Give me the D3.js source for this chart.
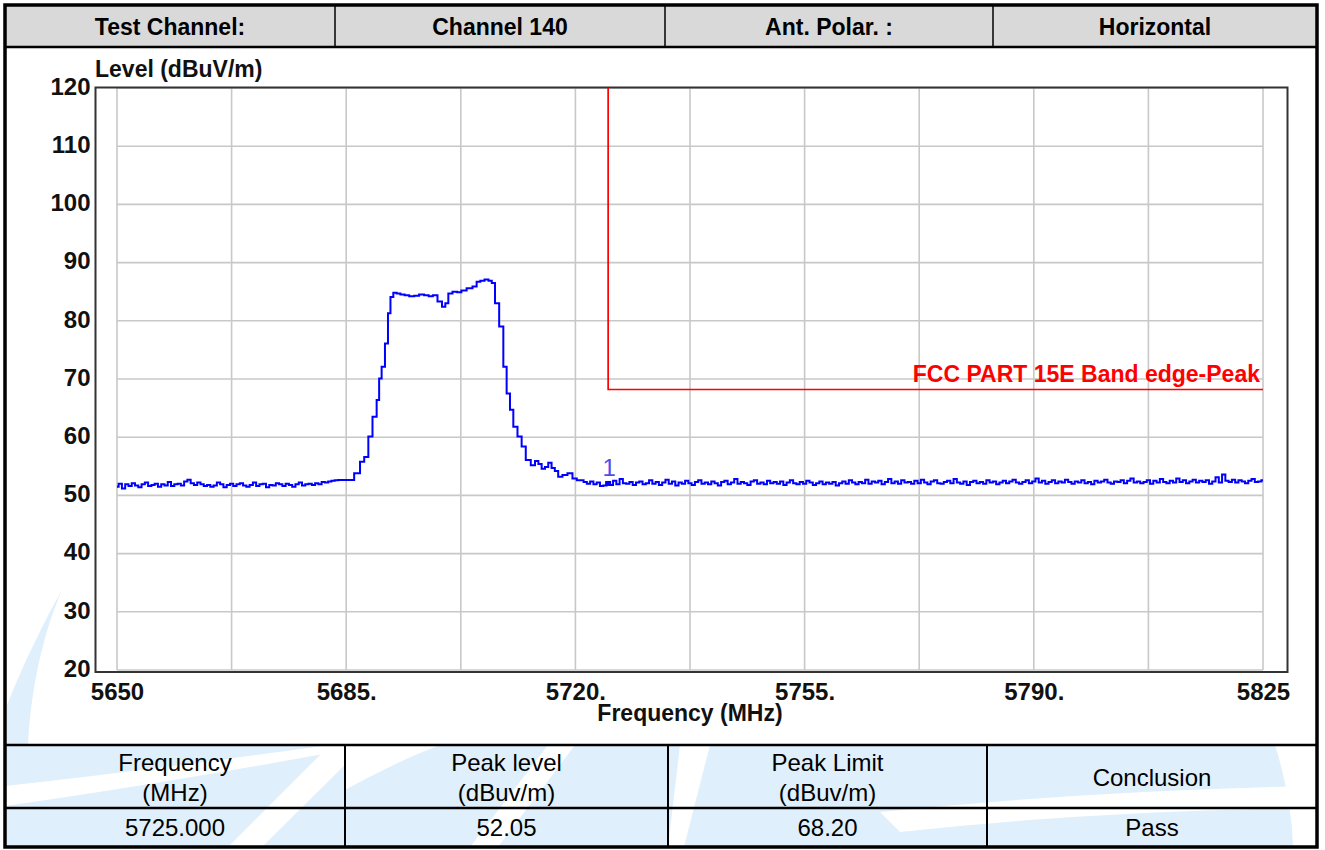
<!DOCTYPE html>
<html><head><meta charset="utf-8">
<script src="https://cdn.jsdelivr.net/npm/d3@7"></script>
<style>
body{margin:0;background:#fff}
svg{display:block}
text{font-family:'Liberation Sans',Arial,Helvetica,sans-serif}
</style>
</head><body>
<svg id="chart" width="1325" height="850"></svg>
<script>
// ---------------- DATA ----------------
const headerCells = ["Test Channel:", "Channel 140", "Ant. Polar. :", "Horizontal"];
const tableHeads = [["Frequency", "(MHz)"], ["Peak level", "(dBuv/m)"], ["Peak Limit", "(dBuv/m)"], ["Conclusion"]];
const tableValues = ["5725.000", "52.05", "68.20", "Pass"];

const yTicks = [20, 30, 40, 50, 60, 70, 80, 90, 100, 110, 120];
const xTicks = [5650, 5685, 5720, 5755, 5790, 5825];
const xTickLabels = ["5650", "5685.", "5720.", "5755.", "5790.", "5825"];
const xGrid = [5650, 5667.5, 5685, 5702.5, 5720, 5737.5, 5755, 5772.5, 5790, 5807.5, 5825];

const limitLabel = "FCC PART 15E Band edge-Peak";
const limitStartMHz = 5725;
const limitEndMHz = 5825;
const limitDb = 68.2;
const limitTopDb = 120;

const markerLabel = "1";
const markerMHz = 5725;
const markerDb = 52.05;

const yTitle = "Level (dBuV/m)";
const xTitle = "Frequency (MHz)";

// sweep points (0.5 MHz spacing) of the noise floor
const sweepStepMHz = 0.5;
const lowerFloorStartMHz = 5650;
const lowerFloor = [
  51.5, 52.0, 51.2, 51.9, 51.6, 52.1, 51.7, 51.4, 51.9, 52.2,
  51.6, 51.8, 52.0, 51.5, 51.9, 51.7, 52.3, 51.6, 51.9, 52.0,
  51.7, 52.4, 52.7, 52.1, 51.8, 52.2, 51.9, 51.6, 51.8, 51.5,
  51.7, 52.2, 51.9, 51.4, 51.8, 52.0, 51.6, 51.9, 52.1, 51.7,
  51.5, 51.8, 52.2, 51.6, 51.9, 52.0, 51.4, 51.8, 51.7, 52.1,
  51.9, 51.6, 52.0, 51.8, 51.5, 51.9, 52.2, 51.7, 51.9, 52.0,
  51.8, 52.1, 51.9, 52.3, 52.2, 52.4, 52.5, 52.6
];
// emission (MHz, dBuV/m)
const emission = [
  [5684.05, 52.65], [5685.58, 52.65], [5686.85, 53.8], [5687.37, 55.8], [5688.13, 56.6],
  [5688.63, 60.1], [5689.40, 63.5], [5689.90, 66.4], [5690.16, 70.1], [5690.66, 72.1],
  [5691.18, 76.1], [5691.58, 81.3], [5691.94, 84.1], [5692.45, 84.8], [5692.95, 84.7],
  [5693.6, 84.5], [5694.24, 84.4], [5695.0, 84.2], [5695.76, 84.3], [5696.5, 84.5],
  [5697.29, 84.4], [5697.9, 84.2], [5698.56, 84.4], [5699.32, 83.3], [5699.93, 82.4],
  [5700.34, 83.0], [5700.85, 84.7], [5701.61, 85.0], [5702.3, 84.9], [5702.88, 85.2],
  [5703.9, 85.6], [5704.67, 85.9], [5705.17, 86.7], [5705.8, 86.9], [5706.45, 87.1],
  [5707.0, 86.9], [5707.46, 86.5], [5707.98, 83.0], [5708.74, 79.0], [5709.25, 72.1],
  [5709.75, 67.5], [5710.27, 64.7], [5710.77, 61.8], [5711.54, 60.1], [5712.04, 58.4],
  [5712.8, 56.1], [5713.57, 55.2], [5714.1, 55.9], [5714.59, 55.4], [5715.1, 54.6],
  [5715.61, 54.9], [5716.1, 55.6], [5716.62, 54.7], [5717.1, 54.2], [5717.64, 53.2],
  [5718.4, 53.5], [5719.17, 53.8], [5719.93, 52.9], [5720.5, 52.6]
];
const upperFloorStartMHz = 5721;
const upperFloor = [
  52.6, 52.3, 52.0, 52.4, 51.9, 52.2, 51.6, 51.7, 52.05, 51.8,
  52.5, 51.9, 52.8, 52.1, 52.0, 52.3, 51.8, 52.2, 52.4, 51.9,
  52.1, 52.6, 52.0, 52.3, 51.8, 52.2, 52.7, 52.0, 52.4, 51.7,
  52.2, 52.0, 52.5, 52.1, 51.8, 52.3, 52.6, 52.0, 52.2, 51.9,
  52.4, 52.1, 51.7, 52.3, 52.5, 51.9, 52.2, 52.8, 52.0, 52.3,
  52.1, 51.8, 52.4, 52.6, 52.0, 52.2, 51.9, 52.5, 52.1, 52.3,
  52.0, 52.4, 51.8, 52.2, 52.6, 52.1, 51.9, 52.3, 52.0, 52.5,
  52.2, 51.8, 52.1, 52.4, 51.9, 52.2, 52.0, 52.3, 51.7, 52.1,
  52.4, 52.0, 52.6, 52.2, 51.9, 52.3, 52.1, 52.7, 52.0, 52.4,
  52.2, 52.5, 51.9, 52.3, 52.8, 52.1, 52.4, 52.0, 52.6, 52.2,
  52.3, 52.0, 52.5, 52.1, 52.7, 52.2, 51.9, 52.4, 52.6, 52.1,
  52.0, 52.3, 52.5, 52.1, 52.8, 52.2, 52.0, 52.4, 51.8, 52.3,
  52.5, 52.1, 52.3, 52.0, 52.6, 52.2, 52.4, 51.9, 52.2, 52.5,
  52.1, 52.4, 52.7, 52.2, 52.0, 52.3, 52.6, 52.1, 52.4, 52.9,
  52.2, 52.5, 52.0, 52.3, 52.6, 52.1, 52.4, 52.2, 52.7, 52.3,
  52.0, 52.4, 52.2, 52.6, 52.1, 52.3, 51.9, 52.5, 52.2, 52.4,
  52.7, 52.2, 52.0, 52.4, 52.3, 52.6, 52.1, 52.5, 52.9, 52.2,
  52.4, 52.1, 52.3, 52.6, 52.0, 52.5, 52.2, 52.8, 52.3, 52.1,
  52.5, 52.2, 52.9, 52.3, 52.6, 52.1, 52.4, 52.7, 52.2, 52.5,
  52.3, 52.6, 52.0, 52.4, 53.1, 52.2, 53.6, 52.5, 52.3, 52.7,
  52.2, 52.6, 52.4, 52.1, 52.5, 52.8, 52.3, 52.4, 52.6
];

// ---------------- LAYOUT ----------------
const outer = {x0: 5, y0: 5, x1: 1317, y1: 847};
const headerBottom = 47;
const headerCols = [5, 335, 665, 993, 1317];
const tableTop = 745, tableMid = 808;
const tableCols = [5, 345, 668, 987, 1317];
const frame = {x0: 95.5, y0: 87.5, x1: 1287.5, y1: 672};

const svg = d3.select("#chart");
const font = "'Liberation Sans',Arial,sans-serif";

// ---------------- WATERMARK ----------------
const wm = svg.append("g");
const wmBlue = "#dfeffb";
wm.append("path").attr("fill", wmBlue)
  .attr("d", "M62,590 C40,640 30,700 28,745 L7,745 L7,705 C25,660 45,620 62,590 Z");
wm.append("rect").attr("x", outer.x0).attr("y", tableTop).attr("width", outer.x1 - outer.x0).attr("height", outer.y1 - tableTop).attr("fill", wmBlue);
const whites = [
  "M5,786 Q150,770 330,745 L372,745 Q175,782 5,806 Z",
  "M330,745 L365,745 L262,847 L228,847 Z",
  "M548,745 L575,745 L498,847 L470,847 Z",
  "M345,745 L440,745 Q400,760 345,790 Z",
  "M680,745 L710,745 L684,847 L668,847 Z",
  "M880,812 Q1100,790 1318,786 L1318,808 Q1100,810 900,832 Z",
  "M1275,745 L1318,745 L1318,847 L1293,847 Q1292,800 1275,745 Z"
];
wm.selectAll("path.w").data(whites).join("path").attr("class", "w").attr("fill", "#fff").attr("d", d => d);

// ---------------- HEADER ----------------
svg.append("rect").attr("x", outer.x0).attr("y", outer.y0).attr("width", outer.x1 - outer.x0).attr("height", headerBottom - outer.y0).attr("fill", "#d9d9d9");
svg.selectAll("text.hdr").data(headerCells).join("text").attr("class", "hdr")
  .attr("x", (d, i) => (headerCols[i] + headerCols[i + 1]) / 2)
  .attr("y", 35).attr("text-anchor", "middle")
  .style("font-size", "23px").style("font-weight", "bold").attr("fill", "#000")
  .text(d => d);

// ---------------- PLOT ----------------
const x = d3.scaleLinear().domain([5650, 5825]).range([117, 1263]);
const y = d3.scaleLinear().domain([20, 120]).range([670, 88]);

svg.append("rect").attr("x", frame.x0).attr("y", frame.y0).attr("width", frame.x1 - frame.x0).attr("height", frame.y1 - frame.y0).attr("fill", "#fff");

const grid = svg.append("g").attr("stroke", "#c8c8c8").attr("stroke-width", 1.6);
grid.selectAll("line.v").data(xGrid).join("line").attr("class", "v")
  .attr("x1", d => x(d)).attr("x2", d => x(d)).attr("y1", y(120)).attr("y2", y(20));
grid.selectAll("line.h").data(yTicks).join("line").attr("class", "h")
  .attr("x1", x(5650)).attr("x2", x(5825)).attr("y1", d => y(d)).attr("y2", d => y(d));

svg.append("rect").attr("x", frame.x0).attr("y", frame.y0).attr("width", frame.x1 - frame.x0).attr("height", frame.y1 - frame.y0)
  .attr("fill", "none").attr("stroke", "#333").attr("stroke-width", 2);

// axes
const yAxis = svg.append("g").attr("transform", `translate(${frame.x0},0)`)
  .call(d3.axisLeft(y).tickValues(yTicks).tickSize(0).tickPadding(5).tickFormat(d3.format("d")));
yAxis.select(".domain").remove();
yAxis.selectAll("text").attr("dy", "0.26em").style("font-size", "24px").style("font-weight", "bold").style("font-family", font).attr("fill", "#111");

const xAxis = svg.append("g").attr("transform", `translate(0,${frame.y1})`)
  .call(d3.axisBottom(x).tickValues(xTicks).tickSize(0).tickPadding(11).tickFormat((d, i) => xTickLabels[i]));
xAxis.select(".domain").remove();
xAxis.selectAll("text").style("font-size", "24px").style("font-weight", "bold").style("font-family", font).attr("fill", "#111");

svg.append("text").attr("x", 95).attr("y", 77).style("font-size", "23px").style("font-weight", "bold").attr("fill", "#111").text(yTitle);
svg.append("text").attr("x", 690).attr("y", 721).attr("text-anchor", "middle").style("font-size", "23px").style("font-weight", "bold").attr("fill", "#111").text(xTitle);

// limit line
const limitPts = [[limitStartMHz, limitTopDb], [limitStartMHz, limitDb], [limitEndMHz, limitDb]];
svg.append("path").datum(limitPts).attr("fill", "none").attr("stroke", "#ff0000").attr("stroke-width", 1.7)
  .attr("d", d3.line().x(d => x(d[0])).y(d => y(d[1])));
svg.append("text").attr("x", x(limitEndMHz) - 3).attr("y", y(limitDb) - 7.5).attr("text-anchor", "end")
  .style("font-size", "23px").style("font-weight", "bold").attr("fill", "#ff0000").text(limitLabel);

// trace
const trace = [];
lowerFloor.forEach((v, i) => trace.push([lowerFloorStartMHz + i * sweepStepMHz, v]));
emission.forEach(p => trace.push(p));
upperFloor.forEach((v, i) => trace.push([upperFloorStartMHz + i * sweepStepMHz, v]));
svg.append("path").datum(trace).attr("fill", "none").attr("stroke", "#0000ff").attr("stroke-width", 2)
  .attr("d", d3.line().curve(d3.curveStep).x(d => x(d[0])).y(d => y(d[1])));

// marker
svg.append("rect").attr("x", x(markerMHz) - 3).attr("y", y(markerDb) - 2.5).attr("width", 6).attr("height", 5).attr("fill", "#0000ff");
svg.append("text").attr("x", x(markerMHz) + 1).attr("y", y(markerDb) - 7).attr("text-anchor", "middle")
  .style("font-size", "24px").attr("fill", "#4f4fe8").text(markerLabel);

// ---------------- TABLE ----------------
const tg = svg.append("g");
tableHeads.forEach((lines, i) => {
  const cx = (tableCols[i] + tableCols[i + 1]) / 2;
  const ys = lines.length === 2 ? [771, 801] : [786];
  lines.forEach((t, j) => tg.append("text").attr("x", cx).attr("y", ys[j]).attr("text-anchor", "middle")
    .style("font-size", "24px").attr("fill", "#000").text(t));
});
tg.selectAll("text.val").data(tableValues).join("text").attr("class", "val")
  .attr("x", (d, i) => (tableCols[i] + tableCols[i + 1]) / 2).attr("y", 836).attr("text-anchor", "middle")
  .style("font-size", "24px").attr("fill", "#000").text(d => d);

// ---------------- RULES ----------------
const rules = svg.append("g").attr("stroke", "#000");
rules.append("line").attr("x1", outer.x0).attr("x2", outer.x1).attr("y1", headerBottom).attr("y2", headerBottom).attr("stroke-width", 2.5);
rules.selectAll("line.hc").data(headerCols.slice(1, -1)).join("line").attr("class", "hc")
  .attr("x1", d => d).attr("x2", d => d).attr("y1", outer.y0).attr("y2", headerBottom).attr("stroke-width", 1.5);
rules.append("line").attr("x1", outer.x0).attr("x2", outer.x1).attr("y1", tableTop).attr("y2", tableTop).attr("stroke-width", 2.5);
rules.append("line").attr("x1", outer.x0).attr("x2", outer.x1).attr("y1", tableMid).attr("y2", tableMid).attr("stroke-width", 2.5);
rules.selectAll("line.tc").data(tableCols.slice(1, -1)).join("line").attr("class", "tc")
  .attr("x1", d => d).attr("x2", d => d).attr("y1", tableTop).attr("y2", outer.y1).attr("stroke-width", 2);
rules.append("rect").attr("x", outer.x0).attr("y", outer.y0).attr("width", outer.x1 - outer.x0).attr("height", outer.y1 - outer.y0)
  .attr("fill", "none").attr("stroke-width", 3.5);
</script>
</body></html>
